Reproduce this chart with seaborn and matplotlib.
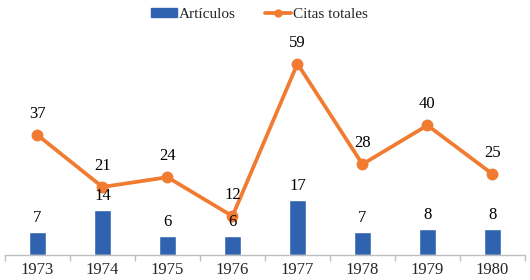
import matplotlib
matplotlib.use("Agg")
import matplotlib.pyplot as plt
import seaborn as sns
from matplotlib.lines import Line2D
from matplotlib.patches import Patch

# data
years = ["1973", "1974", "1975", "1976", "1977", "1978", "1979", "1980"]
articulos = [7, 14, 6, 6, 17, 7, 8, 8]
citas = [37, 21, 24, 12, 59, 28, 40, 25]

blue = "#2f63b0"
orange = "#f07b31"

sns.set_theme(style="white")
plt.rcParams["font.family"] = ["Liberation Serif", "DejaVu Serif"]

fig = plt.figure(figsize=(5.3, 2.8), dpi=100)
ax = fig.add_axes([0.0094, 0.089, 0.981, 0.811])

sns.barplot(x=years, y=articulos, color=blue, width=0.26, saturation=1, ax=ax)
sns.pointplot(x=years, y=citas, color=orange, markers="o", markersize=6.5,
              linewidth=2.7, errorbar=None, ax=ax)

for i, v in enumerate(articulos):
    ax.annotate(str(v), (i, v), xytext=(0, 10), textcoords="offset points",
                ha="center", va="center", fontsize=12, color="black")
for i, v in enumerate(citas):
    ax.annotate(str(v), (i, v), xytext=(0, 15), textcoords="offset points",
                ha="center", va="center", fontsize=12, color="black")

ax.set_ylim(0, 70)
ax.set_xlim(-0.5, 7.5)
ax.set_yticks([])
ax.set_xlabel("")
ax.set_ylabel("")
for s in ["top", "right", "left"]:
    ax.spines[s].set_visible(False)
ax.spines["bottom"].set_color("#bfbfbf")
ax.spines["bottom"].set_linewidth(1)

ax.set_xticks(range(len(years)))
ax.set_xticklabels(years, fontsize=12)
ax.tick_params(axis="x", which="major", length=0, pad=5)
ax.set_xticks([i - 0.5 for i in range(len(years) + 1)], minor=True)
ax.tick_params(axis="x", which="minor", length=4, width=1, color="#bfbfbf", bottom=True)

handles = [Patch(facecolor=blue, edgecolor=blue, label="Artículos"),
           Line2D([0], [0], color=orange, lw=2.7, marker="o", markersize=5,
                  label="Citas totales")]
fig.legend(handles=handles, loc="center", bbox_to_anchor=(0.49, 0.948), ncol=2,
           frameon=False, fontsize=11, handlelength=1.7, handleheight=0.55,
           handletextpad=0.15, columnspacing=1.9)

fig.savefig("out.png", dpi=100)
